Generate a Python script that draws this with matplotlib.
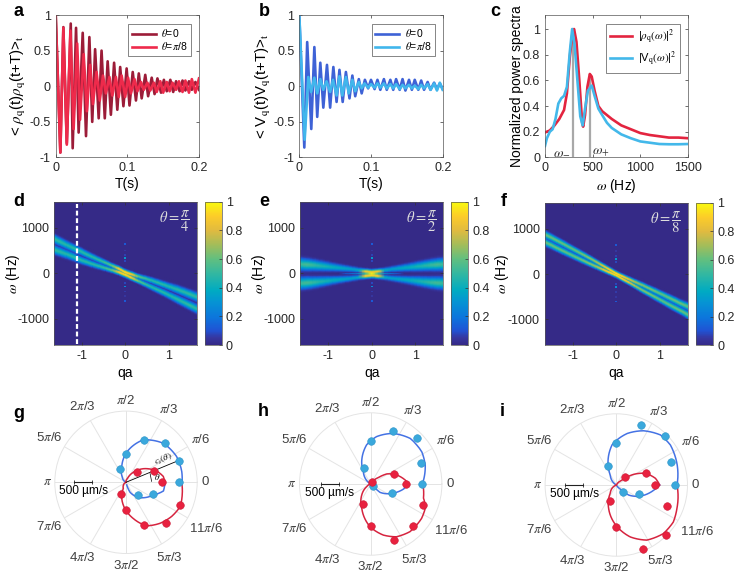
import numpy as np
import matplotlib
matplotlib.use("Agg")
import matplotlib.pyplot as plt
from matplotlib.colors import LinearSegmentedColormap

plt.rcParams['font.family'] = ['Liberation Sans', 'DejaVu Sans']
plt.rcParams['mathtext.fontset'] = 'stix'
plt.rcParams['font.size'] = 9
plt.rcParams['axes.linewidth'] = 0.5
plt.rcParams['axes.edgecolor'] = '#555555'

W, H = 747, 586

# --- panel a: density correlation, extrema ---
t_a0 = [0, .0065, .0107, .0155, .021, .0237, .0284, .032, .0377, .0423, .047, .051, .055, .06, .064,
        .0685, .0725, .077, .0815, .086, .09, .0945, .099, .103, .1075, .112, .116, .12, .125, .129,
        .134, .138, .142, .147, .151, .155, .16, .164, .168, .173, .177, .181, .186, .19, .195, .2]
rho_a0 = [1, -.93, .83, -.8, .88, -.87, .82, -.65, .75, -.7, .69, -.5, .52, -.45, .5,
          -.45, .35, -.4, .33, -.33, .27, -.28, .25, -.27, .2, -.2, .18, -.17, .16, -.14,
          .12, -.11, .11, -.09, .09, -.07, .09, -.08, .07, -.07, .08, -.06, .07, -.05, .06, -.05]
t_a8 = [0, .0065, .0107, .0155, .0205, .025, .03, .034, .039, .0435, .048, .052, .057, .0615, .066,
        .07, .075, .079, .084, .088, .092, .097, .101, .105, .11, .114, .119, .123, .128, .132,
        .137, .141, .146, .15, .155, .159, .163, .168, .172, .177, .181, .186, .19, .195, .2]
rho_a8 = [1, -.93, .82, -.82, .78, -.6, .6, -.47, .45, -.35, .3, -.25, .2, -.2, .15,
          -.1, .13, -.13, .13, -.15, .15, -.15, .12, -.1, .1, -.07, .06, -.05, .05, -.06,
          .05, -.08, .07, -.09, .06, -.07, .05, -.05, .07, -.08, .08, -.09, .1, -.09, .11]

# --- panel b: velocity correlation ---
t_b0 = [0, .007, .011, .0167, .021, .025, .0293, .0335, .0386, .043, .0475, .052, .056, .0605, .065,
        .07, .074, .078, .083, .087, .0915, .096, .1, .105, .109, .113, .118, .122, .127, .131,
        .135, .14, .144, .148, .153, .157, .161, .166, .17, .174, .179, .183, .188, .192, .196, .2]
v_b0 = [1, -.86, .62, -.6, .55, -.43, .33, -.3, .3, -.3, .27, -.22, .23, -.22, .2,
        -.17, .15, -.14, .1, -.1, .09, -.03, .09, -.04, .09, -.05, .1, -.05, .09, -.05,
        .1, -.05, .1, -.06, .09, -.05, .09, -.05, .08, -.05, .06, -.05, .05, -.04, .04, -.04]
t_b8 = [0, .0075, .0125, .0165, .021, .025, .0293, .0335, .038, .043, .047, .052, .056, .06, .065,
        .069, .074, .078, .083, .087, .091, .096, .1, .105, .109, .113, .118, .122, .127, .131,
        .135, .14, .144, .148, .153, .157, .161, .166, .17, .174, .179, .183, .188, .192, .196, .2]
v_b8 = [1, -.75, .13, -.08, .12, -.1, .1, -.05, .07, -.08, .09, -.13, .14, -.13, .13,
        -.1, .09, -.07, .06, -.03, .04, -.02, .03, -.02, .04, -.02, .04, -.03, .03, -.03,
        .03, -.04, .02, -.03, .02, -.03, .01, -.04, .02, -.03, .03, -.05, .04, -.06, .05, -.05]

# --- panel c: power spectra ---
w_rho = [0, 50, 100, 150, 200, 230, 260, 290, 305, 330, 360, 390, 400, 420, 445, 470, 490, 520, 560, 600,
         650, 700, 800, 900, 1000, 1100, 1200, 1300, 1400, 1500]
p_rho = [.195, .21, .25, .30, .37, .5, .78, .98, 1.0, .9, .6, .27, .24, .33, .55, .65, .63, .52, .4, .36,
         .33, .3, .25, .22, .19, .175, .165, .155, .155, .15]
w_vel = [0, 20, 50, 80, 110, 140, 170, 200, 230, 260, 285, 310, 340, 370, 395, 420, 450, 490, 520, 560, 600,
         650, 700, 800, 900, 1000, 1100, 1200, 1300, 1400, 1500]
p_vel = [.09, .15, .2, .22, .3, .42, .46, .48, .55, .82, 1.0, .88, .6, .32, .25, .38, .52, .56, .48, .38, .33,
         .27, .23, .18, .15, .125, .115, .105, .103, .103, .105]
w_marks = [295, 470]
p_marks = [1.0, .65]

# --- panels d, e, f: ridge positions and heights per qa column ---
qa_cols = [-1.65, -1.5, -1.35, -1.2, -1.05, -.9, -.75, -.6, -.45, -.3, -.15, 0,
           .15, .3, .45, .6, .75, .9, 1.05, 1.2, 1.35, 1.5, 1.65]

up_d = [770, 700, 630, 565, 500, 430, 365, 300, 240, 175, 110, 30,
        -15, -60, -100, -145, -195, -245, -295, -345, -400, -455, -510]
lo_d = [530, 480, 430, 375, 310, 260, 210, 165, 120, 75, 35, -20,
        -90, -160, -225, -290, -355, -420, -490, -560, -630, -700, -770]
amp_d = [.5, .5, .48, .5, .5, .5, .5, .52, .55, .65, .92, 1,
         .92, .65, .55, .5, .5, .5, .48, .5, .5, .52, .5]
wid_d = [62, 60, 58, 55, 50, 47, 44, 40, 36, 34, 36, 38,
         36, 34, 36, 40, 44, 47, 50, 55, 58, 60, 62]

up_e = [210, 200, 190, 175, 160, 145, 130, 115, 100, 80, 50, 30,
        50, 80, 100, 115, 130, 145, 160, 175, 190, 200, 210]
lo_e = [-210, -200, -190, -175, -160, -145, -130, -115, -100, -80, -50, -30,
        -50, -80, -100, -115, -130, -145, -160, -175, -190, -200, -210]
mid_e = [0, 0, 0, 0, 0, 0, 0, 0, 0, 0, 0, 0,
         0, 0, 0, 0, 0, 0, 0, 0, 0, 0, 0]
amp_e = [.52, .55, .52, .48, .45, .42, .4, .38, .36, .4, .95, 1,
         .95, .4, .36, .38, .4, .42, .45, .48, .52, .55, .52]
amp_e_mid = [0, 0, 0, 0, 0, 0, 0, .12, .2, .28, .5, 1,
             .5, .28, .2, .12, 0, 0, 0, 0, 0, 0, 0]
wid_e = [85, 82, 76, 70, 64, 56, 50, 44, 38, 34, 36, 38,
         36, 34, 38, 44, 50, 56, 64, 70, 76, 82, 85]
wid_e_mid = [8, 8, 8, 8, 8, 8, 8, 8, 8, 8, 12, 30,
             12, 8, 8, 8, 8, 8, 8, 8, 8, 8, 8]

up_f = [886, 817, 741, 664, 586, 509, 431, 353, 270, 186, 103, 18,
        -48, -111, -175, -238, -306, -374, -442, -511, -581, -652, -710]
lo_f = [718, 650, 577, 508, 438, 369, 301, 233, 170, 106, 43, -18,
        -103, -181, -265, -348, -426, -504, -582, -661, -737, -812, -894]
amp_f = [.62, .62, .62, .62, .62, .64, .66, .68, .74, .86, .96, 1,
         .96, .86, .74, .68, .66, .64, .62, .62, .62, .62, .62]
wid_f = [52, 50, 48, 46, 44, 42, 40, 38, 36, 34, 34, 34,
         34, 34, 36, 38, 40, 42, 44, 46, 48, 50, 52]

# rows of the mesh follow this line through each map
follow_d = [650, 590, 530, 470, 405, 345, 288, 232, 180, 125, 72, 5,
            -52, -110, -162, -218, -275, -332, -392, -452, -515, -578, -640]
follow_e = [0, 0, 0, 0, 0, 0, 0, 0, 0, 0, 0, 0,
            0, 0, 0, 0, 0, 0, 0, 0, 0, 0, 0]
follow_f = [802, 733, 659, 586, 512, 439, 366, 293, 220, 146, 73, 0,
            -75, -146, -220, -293, -366, -439, -512, -586, -659, -732, -802]

# shape across a ridge: distance in widths, relative height
prof_dist = [0, .5, 1, 1.5, 2, 2.6]
prof_height = [1, .86, .55, .26, .08, 0]

# faint harmonics along qa=0
sat_omega = [640, 500, 400, 330, 270, -220, -290, -400, -500, -610]
sat_value = [.12, .05, .07, .33, .08, .08, .28, .06, .05, .12]

th_blue_g = [0, 22.5, 45, 67.5, 90, 112.5, 315, 337.5]
r_blue_g = [1500, 1600, 1565, 1300, 800, 410, 490, 825]
th_red_g = [0, 22.5, 45, 247.5, 270, 292.5, 315, 337.5]
r_red_g = [1020, 845, 420, 355, 770, 1295, 1600, 1650]
th_b_out_g = [0, 11, 27, 46, 68, 90, 107, 125, 150]
r_b_out_g = [1575, 1595, 1595, 1520, 1285, 815, 410, 185, 30]
th_b_in_g = [285, 292, 309, 335, 347, 360]
r_b_in_g = [75, 300, 545, 845, 1080, 1095]
th_r_in_g = [0, 9, 20, 38, 54, 70, 100]
r_r_in_g = [1095, 1060, 920, 620, 345, 110, 0]
th_r_out_g = [200, 246, 253, 268, 281, 295, 310, 323, 336, 347, 360]
r_r_out_g = [0, 185, 420, 750, 1030, 1350, 1500, 1600, 1670, 1620, 1565]

th_blue_h = [0, 22.5, 45, 67.5, 90, 112.5, 315, 337.5]
r_blue_h = [1435, 1520, 1825, 1610, 1200, 480, 95, 635]
th_red_h = [0, 22.5, 67.5, 247.5, 270, 292.5, 315, 337.5]
r_red_h = [995, 720, 75, 600, 1190, 1695, 1670, 1575]
th_b_out_h = [0, 19, 32, 49, 66, 83, 96, 112, 122, 150]
r_b_out_h = [1450, 1620, 1695, 1695, 1555, 1340, 1105, 675, 385, 0]
th_b_in_h = [300, 315, 318, 336, 351, 360]
r_b_in_h = [0, 100, 350, 645, 930, 1060]
th_r_in_h = [0, 6.6, 19, 32, 40, 60]
r_r_in_h = [1060, 975, 775, 535, 280, 0]
th_r_out_h = [190, 213, 231, 250, 269, 284, 296, 309.5, 326, 337.6, 345, 360]
r_r_out_h = [0, 130, 400, 730, 1200, 1480, 1650, 1735, 1725, 1670, 1535, 1465]

th_blue_i = [0, 22.5, 45, 67.5, 90, 112.5, 315, 337.5]
r_blue_i = [1650, 1670, 1950, 1825, 1170, 580, 270, 675]
th_red_i = [0, 22.5, 45, 247.5, 270, 292.5, 315, 337.5]
r_red_i = [1075, 890, 330, 480, 1170, 1940, 1975, 1545]
th_b_out_i = [0, 18, 36.5, 48.6, 63.3, 78, 96, 109.6, 121, 150]
r_b_out_i = [1705, 1800, 1890, 1875, 1705, 1480, 1135, 695, 330, 0]
th_b_in_i = [300, 315, 321, 335, 352, 360]
r_b_in_i = [0, 160, 450, 740, 1060, 1220]
th_r_in_i = [0, 9.7, 22, 31.6, 41, 60]
r_r_in_i = [1220, 1115, 880, 570, 215, 0]
th_r_out_i = [200, 234, 252, 271, 285, 299, 314, 327, 339, 360]
r_r_out_i = [0, 290, 695, 1170, 1510, 1770, 1900, 1910, 1825, 1705]

polar_labels = ['0', r'$\pi$/6', r'$\pi$/3', r'$\pi$/2', r'2$\pi$/3', r'5$\pi$/6', r'$\pi$',
                r'7$\pi$/6', r'4$\pi$/3', r'3$\pi$/2', r'5$\pi$/3', r'11$\pi$/6']
polar_label_r = [2220, 2420, 2370, 2285, 2445, 2490, 2210, 2490, 2455, 2325, 2455, 2600]

parula = LinearSegmentedColormap.from_list('parula', [
    (0.0, (.2081, .1663, .5292)), (.05, (.2123, .2138, .6270)), (.1, (.1253, .3242, .8303)),
    (.19, (.0498, .4586, .8641)), (.3, (.02, .58, .83)), (.38, (.0, .67, .76)),
    (.5, (.2, .72, .63)), (.6, (.38, .75, .5)), (.7, (.64, .74, .35)),
    (.8, (.88, .73, .25)), (.9, (.99, .8, .16)), (1.0, (.9763, .9831, .0538))])

DARK_RED, RED = '#9C1C38', '#EE2A4B'
DARK_BLUE, LIGHT_BLUE = '#3E62D6', '#41B6EC'
CURVE_BLUE, CURVE_RED = '#4472E4', '#D6243F'
DOT_BLUE, DOT_RED = '#3AA8DC', '#E8213F'


def px_axes(x0, y0, x1, y1, **kw):
    # pixel box measured from the top left corner of the picture
    return fig.add_axes([x0 / W, 1 - y1 / H, (x1 - x0) / W, (y1 - y0) / H], **kw)


def style_box(ax):
    ax.tick_params(direction='in', length=2, width=0.5, top=True, right=True,
                   color='#333333', labelcolor='#262626', pad=3.5)


def add_letter(x, y, s):
    fig.text(x / W, 1 - y / H, s, fontsize=13, fontweight='bold', ha='left', va='center')


def line_panel(box, t1, y1, c1, t2, y2, c2, ylab, letter, lx, letter_x):
    ax = px_axes(*box)
    ax.plot(t1, y1, color=c1, lw=1.9, label=r'$\theta$=0')
    ax.plot(t2, y2, color=c2, lw=1.9, label=r'$\theta$=$\pi$/8')
    ax.set_xlim(0, .2)
    ax.set_ylim(-1, 1)
    ax.set_xticks([0, .1, .2], ['0', '0.1', '0.2'])
    ax.set_yticks([-1, -.5, 0, .5, 1], ['-1', '-0.5', '0', '0.5', '1'])
    ax.set_xlabel('T(s)', fontsize=10)
    ax.xaxis.set_label_coords(.5, -.14)
    ax.set_ylabel(ylab, fontsize=10.8)
    ax.yaxis.set_label_coords(lx, .5)
    style_box(ax)
    leg = ax.legend(loc='upper right', bbox_to_anchor=(.945, .94), fontsize=7.5, fancybox=False,
                    framealpha=1, edgecolor='#555555', borderaxespad=0, handlelength=2.3,
                    borderpad=.35, labelspacing=.1, handletextpad=.5)
    leg.get_frame().set_linewidth(.5)
    add_letter(letter_x, 11, letter)
    return ax


def ridge_mesh(ridges, follow):
    # rows run along the ridges, so the shading does not bead on a sloped band
    offsets = np.arange(-700, 701, 20)
    qa_grid, om_grid = np.meshgrid(qa_cols, offsets)
    om_grid = om_grid + np.asarray(follow, dtype=float)
    img = np.zeros(om_grid.shape)
    for centres, amps, widths in ridges:
        dist = np.abs(om_grid - np.asarray(centres)) / np.asarray(widths)
        img = np.maximum(img, np.asarray(amps) * np.interp(dist, prof_dist, prof_height))
    return qa_grid, om_grid, img


def map_panel(box, cbox, ridges, follow, frac, letter, lx, lpos):
    ax = px_axes(*box)
    ax.set_facecolor(parula(0.0))
    qa_grid, om_grid, img = ridge_mesh(ridges, follow)
    mesh = ax.pcolormesh(qa_grid, om_grid, img, shading='gouraud', cmap=parula, vmin=0, vmax=1)
    ax.scatter([0] * len(sat_omega), sat_omega, c=sat_value, cmap=parula, vmin=0, vmax=1,
               s=1.6, marker='s', linewidths=0)
    ax.set_xlim(-1.646, 1.646)
    ax.set_ylim(-1575, 1575)
    ax.set_xticks([-1, 0, 1], ['-1', '0', '1'])
    ax.set_yticks([-1000, 0, 1000], ['-1000', '0', '1000'])
    style_box(ax)
    ax.set_xlabel('qa', fontsize=10)
    ax.xaxis.set_label_coords(.5, -.145)
    ax.set_ylabel(r'$\omega$ (Hz)', fontsize=10)
    ax.yaxis.set_label_coords(lx, .5)
    ax.text(.955, .955, r'$\theta=\dfrac{\pi}{%s}$' % frac, transform=ax.transAxes, color='#dddddd',
            fontsize=10.5, ha='right', va='top')
    cax = px_axes(*cbox)
    cb = fig.colorbar(mesh, cax=cax)
    cb.set_ticks([0, .2, .4, .6, .8, 1], labels=['0', '0.2', '0.4', '0.6', '0.8', '1'])
    cb.ax.tick_params(direction='in', length=2, width=0.5, color='#333333', labelcolor='#262626', pad=3)
    cb.outline.set_linewidth(.5)
    add_letter(lpos[0], lpos[1], letter)
    return ax


def polar_panel(cx, cy, dots_b, dots_r, curves_b, curves_r, bar_x, text_x, letter, lpos):
    R = 71.2
    ax = px_axes(cx - R, cy - R, cx + R, cy + R, projection='polar')
    ax.set_ylim(0, 2000)
    ax.set_yticks([])
    spoke_angles = np.deg2rad(np.arange(0, 360, 30))
    ax.set_xticks(spoke_angles, [''] * len(spoke_angles))
    ax.tick_params(axis='x', length=0)
    ax.grid(True, color='#e4e4e4', lw=.7)
    ax.spines['polar'].set_color('#e4e4e4')
    ax.spines['polar'].set_linewidth(.7)
    ax.patch.set_alpha(0)
    for ang, r_lab, lab in zip(spoke_angles, polar_label_r, polar_labels):
        ax.text(ang, r_lab, lab, color='#404040', fontsize=9.5, ha='center', va='center', clip_on=False)
    for curves, col in ((curves_b, CURVE_BLUE), (curves_r, CURVE_RED)):
        for th, r in curves:
            ln, = ax.plot(np.deg2rad(th), r, color=col, lw=1.1)
            ln.get_path()._interpolation_steps = 30  # follow the arc between read points
    ax.scatter(np.deg2rad(dots_b[0]), dots_b[1], s=30, color=DOT_BLUE, edgecolors='#2f95c8',
               linewidths=.4, zorder=4, clip_on=False)
    ax.scatter(np.deg2rad(dots_r[0]), dots_r[1], s=30, color=DOT_RED, edgecolors='#cc1c38',
               linewidths=.4, zorder=4, clip_on=False)
    # 500 um/s is one eighth of the axes width with rmax = 2000
    ax.plot([bar_x, bar_x + .125], [.5, .5], transform=ax.transAxes, color='#222222', lw=.8,
            marker='|', ms=2.5, mew=.6, zorder=5)
    ax.text(text_x, .44, '500 µm/s', transform=ax.transAxes, ha='center', va='center', fontsize=8.6,
            color='black', zorder=5)
    add_letter(lpos[0], lpos[1], letter)
    return ax


fig = plt.figure(figsize=(W / 100, H / 100), dpi=100)

# --- top row ---
line_panel((55.7, 15, 199, 157.5), t_a0, rho_a0, DARK_RED, t_a8, rho_a8, RED,
           r'< $\rho_{\mathrm{q}}$(t)$\rho_{\mathrm{q}}$(t+T)>$_{\mathrm{t}}$', 'a', -.19, 13)
line_panel((299.3, 15, 442.7, 157.5), t_b0, v_b0, DARK_BLUE, t_b8, v_b8, LIGHT_BLUE,
           r'< V$_{\mathrm{q}}$(t)V$_{\mathrm{q}}$(t+T)>$_{\mathrm{t}}$', 'b', -.18, 259)

ax_c = px_axes(545, 15, 688, 157.5)
ax_c.vlines(w_marks, 0, p_marks, color='#a8a8a8', lw=1.6)
ax_c.plot(w_rho, p_rho, color='#E3243F', lw=1.9, label=r'|$\rho_{\mathrm{q}}(\omega)$|$^2$')
ax_c.plot(w_vel, p_vel, color='#43B8EA', lw=1.9, label=r'|V$_{\mathrm{q}}(\omega)$|$^2$')
ax_c.set_xlim(0, 1500)
ax_c.set_ylim(0, 1.109)
ax_c.set_xticks([0, 500, 1000, 1500])
ax_c.set_yticks([0, .2, .4, .6, .8, 1], ['0', '0.2', '0.4', '0.6', '0.8', '1'])
ax_c.set_xlabel(r'$\omega$ (Hz)', fontsize=10)
ax_c.xaxis.set_label_coords(.5, -.135)
ax_c.set_ylabel('Normalized power spectra', fontsize=10)
ax_c.yaxis.set_label_coords(-.15, .5)
style_box(ax_c)
ax_c.text(270, .045, r'$\omega_{-}$', ha='right', va='center', fontsize=10, color='#333333')
ax_c.text(490, .045, r'$\omega_{+}$', ha='left', va='center', fontsize=10, color='#333333')
leg_c = ax_c.legend(loc='upper right', bbox_to_anchor=(.945, .94), fontsize=8, fancybox=False,
                    framealpha=1, edgecolor='#555555', borderaxespad=0, handlelength=2.0,
                    borderpad=.35, labelspacing=.25, handletextpad=.5)
leg_c.get_frame().set_linewidth(.5)
add_letter(490, 11, 'c')

# --- maps ---
ax_d = map_panel((54, 201.7, 196.7, 345), (204.7, 201.7, 221.7, 345),
                 [(up_d, amp_d, wid_d), (lo_d, amp_d, wid_d)], follow_d, '4', 'd', -.225, (13, 202))
ax_d.axvline(-1.115, ymin=.01, ymax=.985, color='white', lw=1.6, ls=(0, (2.2, 1.2)))
map_panel((300, 201.7, 443.3, 345), (451.3, 201.7, 468.3, 345),
          [(up_e, amp_e, wid_e), (lo_e, amp_e, wid_e), (mid_e, amp_e_mid, wid_e_mid)],
          follow_e, '2', 'e', -.225, (259, 202))
map_panel((544.7, 202.7, 688, 345.3), (696, 202.7, 713.3, 345.3),
          [(up_f, amp_f, wid_f), (lo_f, amp_f, wid_f)], follow_f, '8', 'f', -.235, (501, 202))

# --- polar row ---
ax_g = polar_panel(126, 482.3, (th_blue_g, r_blue_g), (th_red_g, r_red_g),
                   [(th_b_out_g, r_b_out_g), (th_b_in_g, r_b_in_g)],
                   [(th_r_in_g, r_r_in_g), (th_r_out_g, r_r_out_g)], .1335, .2, 'g', (13, 414))
ax_g.plot(np.deg2rad([22.5, 22.5]), [0, 1600], color='black', lw=.6, zorder=3)
ax_g.plot(np.deg2rad([2, 20]), [720, 720], color='black', lw=.5, zorder=3)
ax_g.text(np.deg2rad(10), 900, r'$\theta$', fontsize=6.5, ha='center', va='center', zorder=5)
ax_g.text(np.deg2rad(31), 1230, r'$c_s(\theta)$', fontsize=6.5, rotation=22, ha='center', va='center', zorder=5)

polar_panel(370.7, 484, (th_blue_h, r_blue_h), (th_red_h, r_red_h),
            [(th_b_out_h, r_b_out_h), (th_b_in_h, r_b_in_h)],
            [(th_r_in_h, r_r_in_h), (th_r_out_h, r_r_out_h)], .15, .21, 'h', (258, 412))
polar_panel(616.3, 485, (th_blue_i, r_blue_i), (th_red_i, r_red_i),
            [(th_b_out_i, r_b_out_i), (th_b_in_i, r_b_in_i)],
            [(th_r_in_i, r_r_in_i), (th_r_out_i, r_r_out_i)], .14, .208, 'i', (500, 412))

fig.savefig('out.png', dpi=100)
